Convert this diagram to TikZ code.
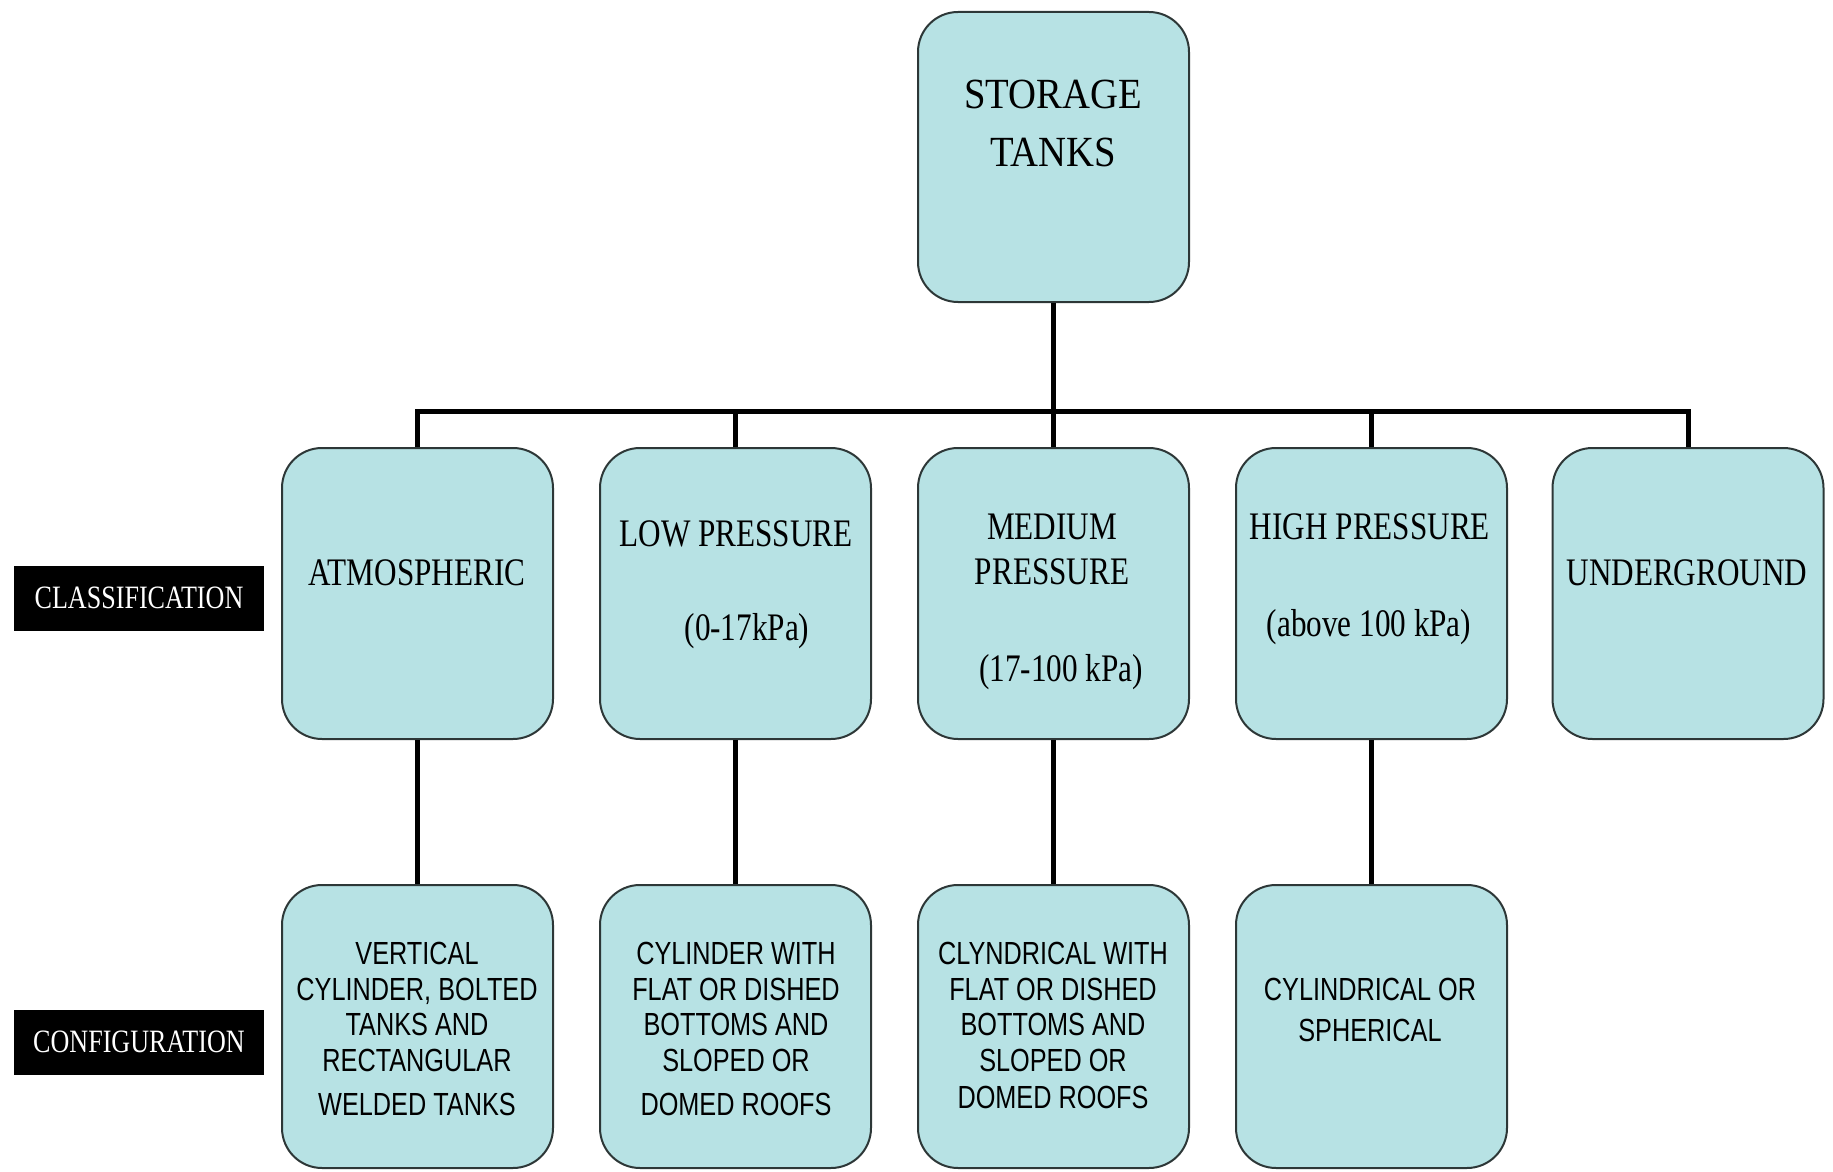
\documentclass[tikz,border=0pt]{standalone}
\usepackage{fontspec}
\newfontfamily\topfont[FakeStretch=0.9]{Liberation Serif}
\newfontfamily\clsfont[FakeStretch=0.8]{Liberation Serif}
\newfontfamily\cfgfont[FakeStretch=0.79]{Liberation Sans}
\definecolor{tankfill}{RGB}{183,226,228}
\definecolor{tankedge}{RGB}{45,55,55}
\begin{document}
\begin{tikzpicture}[x=0.5pt,y=-0.5pt,
  tankbox/.style={draw=tankedge, line width=1pt, fill=tankfill, rounded corners=20pt,
    minimum width=135.5pt, inner sep=0pt},
  rowtwo/.style={tankbox, minimum height=145.5pt},
  rowthree/.style={tankbox, minimum height=141.5pt},
  conn/.style={line width=2.5pt, black, line join=miter},
  sidelbl/.style={fill=black, text=white, minimum width=125pt, minimum height=32.5pt,
    inner sep=0pt, font=\clsfont\fontsize{16.3}{16.3}\selectfont},
  ttop/.style={inner sep=0pt, font=\topfont\fontsize{21.5}{21.5}\selectfont, text height=14.2pt, text depth=0pt},
  tcls/.style={inner sep=0pt, font=\clsfont\fontsize{19.5}{19.5}\selectfont, text height=12.9pt, text depth=0pt},
  tcfg/.style={inner sep=0pt, font=\cfgfont\fontsize{16}{16}\selectfont, text height=11.5pt, text depth=0pt}
]
\useasboundingbox (0,0) rectangle (1833,1172);

% boxes
\node[tankbox, minimum height=145pt] (top) at (1053.5,157) {};
\node[rowtwo] (atm) at (417.5,593.5) {};
\node[rowtwo] (low) at (735.5,593.5) {};
\node[rowtwo] (med) at (1053.5,593.5) {};
\node[rowtwo] (high) at (1371.5,593.5) {};
\node[rowtwo] (und) at (1688,593.5) {};
\node[rowthree] (atmc) at (417.5,1026.5) {};
\node[rowthree] (lowc) at (735.5,1026.5) {};
\node[rowthree] (medc) at (1053.5,1026.5) {};
\node[rowthree] (highc) at (1371.5,1026.5) {};

% side labels
\node[sidelbl] (cls) at (139,598) {CLASSIFICATION};
\node[sidelbl] (cfg) at (139,1042) {CONFIGURATION};

% connectors
\coordinate (bar) at (0,411);
\draw[conn] (top.south) -- (top.south |- bar);
\draw[conn] (atm.north) -- (atm.north |- bar) -- (und.north |- bar) -- (und.north);
\draw[conn] (low.north) -- (low.north |- bar);
\draw[conn] (med.north) -- (med.north |- bar);
\draw[conn] (high.north) -- (high.north |- bar);
\draw[conn] (atm.south) -- (atmc.north);
\draw[conn] (low.south) -- (lowc.north);
\draw[conn] (med.south) -- (medc.north);
\draw[conn] (high.south) -- (highc.north);

% top text
\node[ttop] (topa) at (1053,94) {STORAGE};
\node[ttop] (topb) at (1053,152) {TANKS};

% classification texts
\node[tcls] (atmt) at (417,573) {ATMOSPHERIC};
\node[tcls] (lowa) at (736,534) {LOW PRESSURE};
\node[tcls] (lowb) at (747,628) {(0-17kPa)};
\node[tcls] (meda) at (1052,527) {MEDIUM};
\node[tcls] (medb) at (1052,572) {PRESSURE};
\node[tcls] (medd) at (1061,669) {(17-100 kPa)};
\node[tcls] (higha) at (1370,527) {HIGH PRESSURE};
\node[tcls] (highb) at (1369,624) {(above 100 kPa)};
\node[tcls] (undt) at (1687,573) {UNDERGROUND};

% configuration texts
\node[tcfg] (atmc1) at (417,953) {VERTICAL};
\node[tcfg] (atmc2) at (417,989) {CYLINDER, BOLTED};
\node[tcfg] (atmc3) at (417,1024) {TANKS AND};
\node[tcfg] (atmc4) at (417,1060) {RECTANGULAR};
\node[tcfg] (atmc5) at (417,1104) {WELDED TANKS};

\node[tcfg] (lowc1) at (736,953) {CYLINDER WITH};
\node[tcfg] (lowc2) at (736,989) {FLAT OR DISHED};
\node[tcfg] (lowc3) at (736,1024) {BOTTOMS AND};
\node[tcfg] (lowc4) at (736,1060) {SLOPED OR};
\node[tcfg] (lowc5) at (736,1104) {DOMED ROOFS};

\node[tcfg] (medc1) at (1053,953) {CLYNDRICAL WITH};
\node[tcfg] (medc2) at (1053,989) {FLAT OR DISHED};
\node[tcfg] (medc3) at (1053,1024) {BOTTOMS AND};
\node[tcfg] (medc4) at (1053,1060) {SLOPED OR};
\node[tcfg] (medc5) at (1053,1097) {DOMED ROOFS};

\node[tcfg] (highc1) at (1370,989) {CYLINDRICAL OR};
\node[tcfg] (highc2) at (1370,1030) {SPHERICAL};
\end{tikzpicture}
\end{document}
